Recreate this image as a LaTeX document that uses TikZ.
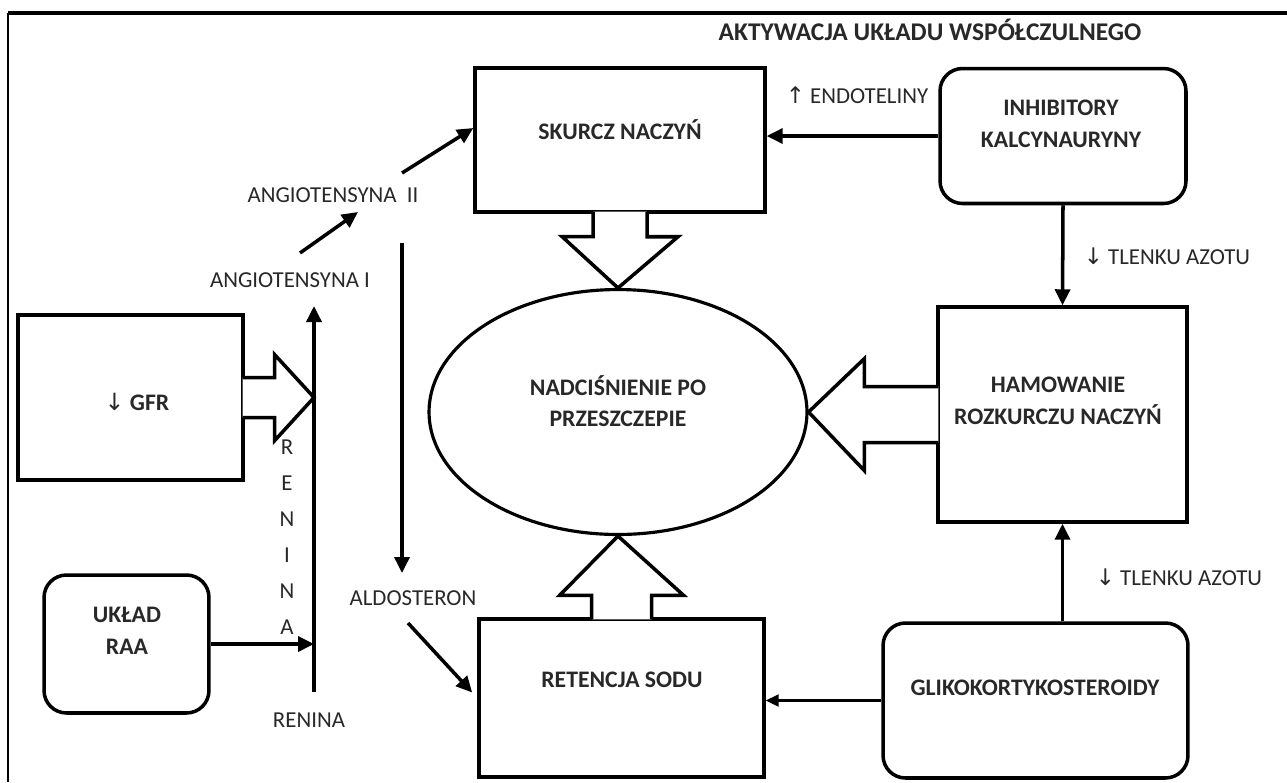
\documentclass[tikz,border=0pt]{standalone}
\usepackage{fontspec}
\setmainfont{Carlito}
\newfontfamily\arrowfont{DejaVu Sans}
\usetikzlibrary{arrows.meta, calc, shapes.geometric}
\definecolor{inkgray}{RGB}{40,40,40}
\newcommand{\dn}{{\arrowfont\mdseries ↓}}
\newcommand{\upw}{{\arrowfont\mdseries ↑}}

\begin{document}
\begin{tikzpicture}[x=0.02cm, y=-0.02cm,
  font=\fontsize{13}{18}\selectfont,
  box/.style={draw, line width=2pt, inner sep=0pt},
  rbox/.style={box, rounded corners=0.45cm},
  txt/.style={align=center, inner sep=1pt, text=inkgray,
              font=\fontsize{13.5}{18}\selectfont\bfseries},
  lbl/.style={inner sep=1pt, text=inkgray},
  fat/.style={draw, fill=white, line width=2pt, line join=miter},
  arr/.style={-{Triangle[length=0.32cm, width=0.3cm]}, line width=2pt},
  tarr/.style={-{Triangle[length=0.26cm, width=0.24cm]}, line width=1.3pt}]

  \useasboundingbox (0,0) rectangle (1287,782);

  %% frame
  \draw[line width=1.2pt] (8,782) -- (8,13);
  \draw[line width=2pt] (8,13) -- (1287,13);

  \node[txt, font=\fontsize{14.5}{18}\selectfont\bfseries] (title) at (930,30) {AKTYWACJA UKŁADU WSPÓŁCZULNEGO};

  %% boxes
  \node[box, minimum width=5.8cm, minimum height=2.88cm] (skurcz) at (620,140) {};
  \node[rbox, minimum width=4.92cm, minimum height=2.7cm] (inhib) at (1063,136) {};
  \node[box, minimum width=4.98cm, minimum height=4.3cm] (hamow) at (1062.5,414.5) {};
  \node[rbox, minimum width=6.1cm, minimum height=3.1cm] (gliko) at (1035.5,700.5) {};
  \node[box, minimum width=5.7cm, minimum height=3.16cm] (retencja) at (621.5,698) {};
  \node[box, ellipse, line width=1.8pt, minimum width=7.56cm, minimum height=4.9cm] (htn) at (618,412) {};
  \node[box, minimum width=4.5cm, minimum height=3.3cm] (gfr) at (130.5,397.5) {};
  \node[rbox, minimum width=3.3cm, minimum height=2.76cm] (raa) at (126.5,644) {};

  %% box texts
  \node[txt] (skurcz-t)   at (620,130)  {SKURCZ NACZYŃ};
  \node[txt] (inhib-t)    at (1061,124) {INHIBITORY\\KALCYNAURYNY};
  \node[txt] (hamow-t)    at (1058,401) {HAMOWANIE\\ROZKURCZU NACZYŃ};
  \node[txt] (gliko-t)    at (1035,688) {GLIKOKORTYKOSTEROIDY};
  \node[txt] (retencja-t) at (622,680)  {RETENCJA SODU};
  \node[txt] (htn-t)      at (618,401)  {NADCIŚNIENIE PO\\PRZESZCZEPIE};
  \node[txt] (gfr-t)      at (137,402)  {\dn\ GFR};
  \node[txt] (raa-t)      at (127,631)  {UKŁAD\\RAA};

  %% labels
  \node[lbl] (angI)  at (290,280) {ANGIOTENSYNA I};
  \node[lbl] (angII) at (333,195) {ANGIOTENSYNA~~II};
  \node[lbl] (aldo)  at (413,598) {ALDOSTERON};
  \node[lbl] (renina) at (309,720) {RENINA};
  \node[lbl] (endo)  at (857,95) {\upw\ ENDOTELINY};
  \node[lbl] (no1)   at (1167,256) {\dn\ TLENKU AZOTU};
  \node[lbl] (no2)   at (1179,577) {\dn\ TLENKU AZOTU};
  \foreach \l [count=\i] in {R,E,N,I,N,A}
    \node[lbl] (ren\i) at (287,{447+36*(\i-1)}) {\l};

  %% fat arrows
  \path[fat] ($(skurcz.south)+(-27,-2.2)$) -- ++(0,25) -- ++(-31,0) -- (htn.north)
    -- ($(skurcz.south)+(58,23)$) -- ++(-31,0) -- ++(0,-25);
  \path[fat] ($(retencja.north)+(-30,2.2)$) -- ++(0,-24) -- ++(-32,0) -- (htn.south)
    -- ($(retencja.north)+(62,-22)$) -- ++(-32,0) -- ++(0,24);
  \path[fat] ($(hamow.west)+(2.2,-28)$) -- ++(-74,0) -- ++(0,-28) -- (htn.east)
    -- ($(hamow.west)+(-72,56)$) -- ++(0,-28) -- ++(74,0);
  \coordinate (rtop) at (314,306);
  \coordinate (rbot) at (314,692);
  \path[fat] ($(gfr.east)+(-2.2,-20)$) -- ++(32,0) -- ++(0,-23) -- (gfr.east -| rbot)
    -- ($(gfr.east)+(30,43)$) -- ++(0,-23) -- ++(-32,0);

  %% renin-angiotensin chain
  \draw[arr] (rbot) -- (rtop);
  \draw[arr] (raa.east) -- (raa.east -| rbot);
  \coordinate (a1) at (300,253);
  \coordinate (a2) at (358,212);
  \coordinate (a3) at (402,173);
  \draw[arr] (a1) -- (a2);
  \draw[arr] (a3) -- ($(skurcz.west)+(0,-12)$);
  \coordinate (d1) at (402,243);
  \coordinate (d2) at (402,573);
  \draw[arr] (d1) -- (d2);
  \coordinate (d3) at (408,623);
  \draw[arr, shorten >=0.15cm] (d3) -- (retencja.west);

  %% drug effects
  \draw[arr] (inhib.west) -- (inhib.west -| skurcz.east);
  \draw[arr] (inhib.south) -- (hamow.north);
  \draw[arr] (gliko.north -| hamow.south) -- (hamow.south);
  \draw[tarr] (gliko.west) -- (gliko.west -| retencja.east);
\end{tikzpicture}
\end{document}
